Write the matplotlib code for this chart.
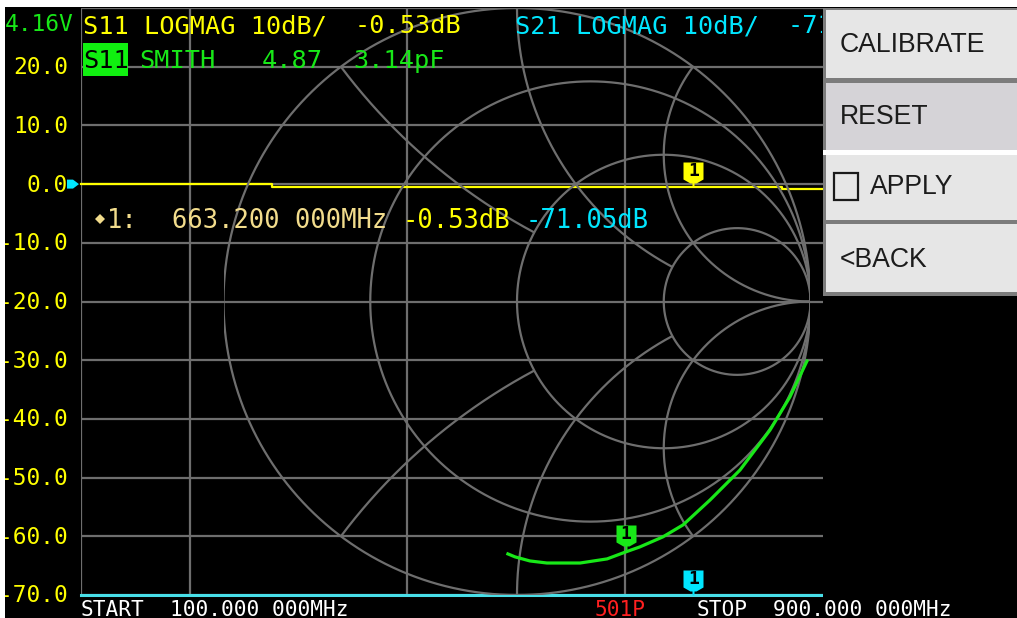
import numpy as np
import matplotlib
matplotlib.use('Agg')
import matplotlib.pyplot as plt
from matplotlib.patches import Rectangle, Polygon
from matplotlib.path import Path
from matplotlib.transforms import Bbox

W, H = 1017, 618

# ---------------- data ----------------
freq_start_mhz = 100.0
freq_stop_mhz = 900.0
sweep_points = 501
db_ticks = [20, 10, 0, -10, -20, -30, -40, -50, -60, -70]
db_tick_labels = ['20.0', '10.0', '0.0', '-10.0', '-20.0', '-30.0',
                  '-40.0', '-50.0', '-60.0', '-70.0']
freq_grid_mhz = [200, 400, 600, 800]

# S11 LOGMAG trace (yellow), step-wise readout
s11_freq = [100, 276, 745, 900]
s11_db = [0.0, -0.5, -0.9, -0.9]

# S21 LOGMAG trace (cyan), below the -70 dB bottom of the scale
s21_freq = [100, 400, 663.2, 900]
s21_db = [-71.2, -71.0, -71.05, -71.1]

# S11 SMITH trace (green), reflection coefficient, 100 MHz -> 900 MHz
smith_re = [0.988, 0.930, 0.862, 0.760, 0.658, 0.566, 0.497, 0.419,
            0.371, 0.307, 0.215, 0.102, 0.044, -0.007, -0.031]
smith_im = [-0.203, -0.325, -0.438, -0.574, -0.676, -0.761, -0.802, -0.836,
            -0.853, -0.877, -0.891, -0.891, -0.884, -0.870, -0.860]

marker_freq = 663.2
marker_s11_db = -0.53
marker_s21_db = -71.05
marker_gamma_re = 0.37
marker_gamma_im = -0.845
marker_r_ohm = '4.87'
marker_c = '3.14pF'

smith_r_values = [1 / 3, 1, 3]
smith_x_values = [0.5, 1, 2]

menu_items = ['CALIBRATE', 'RESET', 'APPLY', '<BACK']

# ---------------- style ----------------
GRID = '#6e6e6e'
YEL = '#ffff00'
CYAN = '#00e6ff'
CYAN_LINE = '#48dfe8'
GREEN = '#18e818'
PALE = '#f2dc8c'
MONO = ['DejaVu Sans Mono', 'DejaVu Sans']
PX = 0.72  # points per pixel at 100 dpi


def fx(x):
    return x / W


def fy(y):
    return 1 - y / H


fig = plt.figure(figsize=(W / 100, H / 100), dpi=100, facecolor='black')


def frect(x0, y0, x1, y1, color, z=5, **kw):
    r = Rectangle((fx(x0), fy(y1)), (x1 - x0) / W, (y1 - y0) / H,
                  transform=fig.transFigure, facecolor=color, zorder=z, **kw)
    fig.add_artist(r)
    return r


def ftext(x, y, s, color, size, z=12, family=MONO, **kw):
    return fig.text(fx(x), fy(y), s, color=color, fontsize=size, family=family,
                    zorder=z, **kw)


# ---------------- rectangular graph ----------------
gx0, gx1, gy0, gy1 = 81, 951, 8, 595
ax = fig.add_axes([fx(gx0), fy(gy1), (gx1 - gx0) / W, (gy1 - gy0) / H])
ax.set_xlim(freq_start_mhz, freq_stop_mhz)
ax.set_ylim(-70, 30)
ax.axis('off')
ax.patch.set_alpha(0)
for d in db_ticks + [30]:
    ax.axhline(d, color=GRID, lw=1.6, zorder=1)
for f in [freq_start_mhz] + freq_grid_mhz:
    ax.axvline(f, color=GRID, lw=1.6, zorder=1)

# ---------------- smith chart ----------------
cx, cy, R = 517, 301.5, 293.5
sax = fig.add_axes([fx(cx - R), fy(cy + R), 2 * R / W, 2 * R / H])
sax.set_xlim(-1, 1)
sax.set_ylim(-1, 1)
sax.axis('off')
sax.patch.set_alpha(0)

t = np.linspace(0, 2 * np.pi, 6000)


def circle(c_x, c_y, r):
    return c_x + r * np.cos(t), c_y + r * np.sin(t)


def inside(x, y, c_x, c_y, r):
    return (x - c_x) ** 2 + (y - c_y) ** 2 < r ** 2


def rcirc(r):
    return r / (1 + r), 0.0, 1 / (1 + r)


def draw_masked(x, y, mask):
    xx = np.where(mask, x, np.nan)
    yy = np.where(mask, y, np.nan)
    sax.plot(xx, yy, color=GRID, lw=1.6, zorder=1, solid_capstyle='butt')


x, y = circle(0, 0, 1)
draw_masked(x, y, np.ones_like(x, bool))
r_small, r_mid, r_big = smith_r_values[2], smith_r_values[1], smith_r_values[0]
x_hi, x_mid, x_lo = smith_x_values[2], smith_x_values[1], smith_x_values[0]
c3 = rcirc(r_small)
c1 = rcirc(r_mid)
c13 = rcirc(r_big)
for s in (1, -1):
    x, y = circle(1, s / x_hi, 1 / x_hi)
    draw_masked(x, y, inside(x, y, 0, 0, 1))
x, y = circle(*c3)
draw_masked(x, y, np.ones_like(x, bool))
for s in (1, -1):
    x, y = circle(1, s / x_mid, 1 / x_mid)
    draw_masked(x, y, inside(x, y, 0, 0, 1) & ~inside(x, y, *c3))
x, y = circle(*c1)
draw_masked(x, y, ~inside(x, y, *c3))
for s in (1, -1):
    x, y = circle(1, s / x_lo, 1 / x_lo)
    draw_masked(x, y, inside(x, y, 0, 0, 1) & ~inside(x, y, *c1))
x, y = circle(*c13)
draw_masked(x, y, ~inside(x, y, *c1))

# ---------------- traces ----------------
ax.plot(s11_freq, s11_db, color=YEL, lw=1.6, drawstyle='steps-post',
        zorder=3, clip_on=False)
s21_shown = np.clip(s21_db, -70, 30)
ax.plot(s21_freq, s21_shown, color=CYAN_LINE, lw=2.2, zorder=3, clip_on=False)
sax.plot(smith_re, smith_im, color=GREEN, lw=2.3, zorder=3)

# ---------------- markers ----------------
tag = Path([(-10, 25), (10, 25), (10, 8), (3, 4), (1, 4), (1, 0), (-1, 0),
            (-1, 4), (-3, 4), (-10, 8), (-10, 25)], closed=False)
ms = 2 * 25 * PX


def marker(axis, x, y, color):
    axis.plot([x], [y], marker=tag, markersize=ms, color=color, mew=0,
              zorder=6, clip_on=False)
    axis.annotate('1', (x, y), xytext=(0, 16 * PX), textcoords='offset points',
                  ha='center', va='center', color='black', fontsize=13,
                  family=MONO, fontweight='bold', zorder=7)


marker(ax, marker_freq, marker_s11_db, YEL)
marker(ax, marker_freq, max(marker_s21_db, -70), CYAN)
marker(sax, marker_gamma_re, marker_gamma_im, GREEN)

# ---------------- cover right side (under menu) ----------------
frect(823, 8, W, 600, 'black', z=8)

# borders of the screenshot
frect(0, 0, W, 7, 'white', z=20)
frect(0, 0, 5, H, 'white', z=20)

# ---------------- header texts ----------------
TOP = 18.2
ftext(5, 31, '4.16V', GREEN, 16.5)
ftext(83, 33, 'S11 LOGMAG 10dB/', YEL, TOP, va='baseline')
ftext(355, 33, '%.2fdB' % marker_s11_db, YEL, TOP, va='baseline')
ftext(515, 33, 'S21 LOGMAG 10dB/', CYAN, TOP, z=9, va='baseline')
s21_val = ftext(788, 33, '%.2fdB' % marker_s21_db, CYAN, TOP, z=9, va='baseline')
s21_val.set_clip_box(Bbox([[0, fy(60) * H], [822, H]]))
s21_val.set_clip_on(True)
frect(83, 43, 128, 76, '#10f010', z=10)
ftext(83, 68, 'S11', 'black', TOP, va='baseline')
ftext(139, 68, 'SMITH', GREEN, TOP, va='baseline')
ftext(262, 68, marker_r_ohm, GREEN, TOP, va='baseline')
ftext(353, 68, marker_c, GREEN, TOP, va='baseline')

# y axis labels
for d, lab in zip(db_ticks, db_tick_labels):
    yy = gy0 + (30 - d) / 100 * (gy1 - gy0)
    ftext(68, yy + 7.5, lab, YEL, 16.4, ha='right', va='baseline')

# reference arrow
ref_y = gy0 + (30 - 0) / 100 * (gy1 - gy0)
fig.add_artist(Polygon([(fx(67), fy(ref_y - 4.5)), (fx(73), fy(ref_y - 4.5)),
                        (fx(79), fy(ref_y)), (fx(73), fy(ref_y + 4.5)),
                        (fx(67), fy(ref_y + 4.5))], closed=True,
                       transform=fig.transFigure, facecolor=CYAN, lw=0, zorder=10))

# marker readout
MK = 18.4
fig.add_artist(Polygon([(fx(95), fy(219)), (fx(100), fy(214)), (fx(105), fy(219)),
                        (fx(100), fy(224))], closed=True,
                       transform=fig.transFigure, facecolor=PALE, lw=0, zorder=12))
ftext(107, 228, '1:', PALE, MK, va='baseline')
ftext(172, 228, '%.3f 000MHz' % marker_freq, PALE, MK, va='baseline')
ftext(403, 228, '%.2fdB' % marker_s11_db, YEL, MK, va='baseline')
ftext(526, 228, '%.2fdB' % marker_s21_db, CYAN, MK, va='baseline')

# bottom line
BOT = 15.2
ftext(81, 615.5, 'START', 'white', BOT, va='baseline')
ftext(170, 615.5, '%.3f 000MHz' % freq_start_mhz, 'white', BOT, va='baseline')
ftext(595, 615.5, '%dP' % sweep_points, '#ff2020', BOT, va='baseline')
ftext(697, 615.5, 'STOP', 'white', BOT, va='baseline')
ftext(773, 615.5, '%.3f 000MHz' % freq_stop_mhz, 'white', BOT, va='baseline')

# ---------------- menu ----------------
frect(823, 8, W, 296, '#7c7c7c', z=10)
frect(826, 10, W, 78, '#e6e6e6', z=11)
frect(826, 83, W, 150, '#d5d3d7', z=11)
frect(823, 150, W, 155, '#ffffff', z=11)
frect(826, 155, W, 220, '#e6e6e6', z=11)
frect(826, 224, W, 292, '#e6e6e6', z=11)
frect(834, 173, 858, 200, 'none', z=12, edgecolor='#1a1a1a', lw=1.6)
SANS = ['Liberation Sans', 'DejaVu Sans']
for lab, yc, xl in zip(menu_items, [45, 117, 187, 260], [840, 840, 870, 840]):
    ftext(xl, yc, lab, '#1c1c1c', 19.2, z=13, family=SANS, va='center')

fig.savefig('out.png', dpi=100, facecolor='black')
